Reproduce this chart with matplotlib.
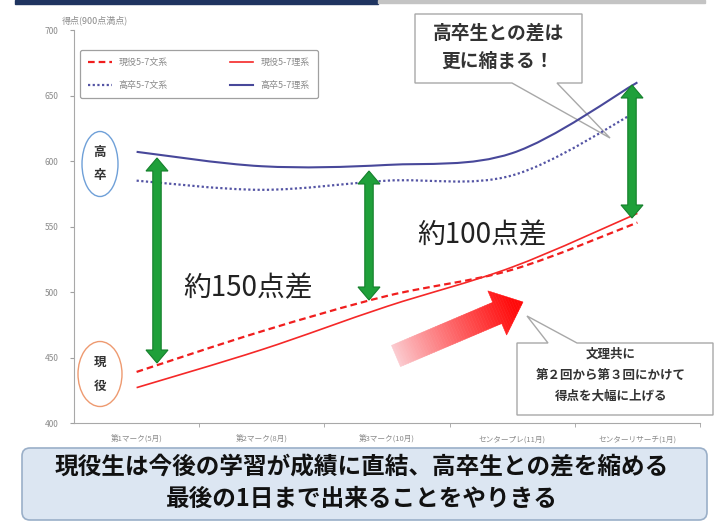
import numpy as np
import matplotlib
matplotlib.use('Agg')
import matplotlib.pyplot as plt
from matplotlib.path import Path
from matplotlib.patches import PathPatch, Polygon, Ellipse, Rectangle, FancyBboxPatch
from matplotlib.lines import Line2D
import matplotlib.transforms as mtransforms

plt.rcParams['font.family'] = ['Noto Sans CJK JP', 'DejaVu Sans']

# data
exams = ['第1マーク(5月)', '第2マーク(8月)', '第3マーク(10月)', 'センタープレ(11月)', 'センターリサーチ(1月)']
genneki_bun = [439, 470, 497, 517, 553]   # 現役5-7文系
genneki_ri = [427, 456, 489, 519, 560]    # 現役5-7理系
kousotsu_bun = [585, 578, 585, 589, 638]  # 高卒5-7文系
kousotsu_ri = [607, 596, 597, 606, 660]   # 高卒5-7理系
yticks = [400, 450, 500, 550, 600, 650, 700]

fig = plt.figure(figsize=(7.21, 5.25), dpi=100)
ax = fig.add_axes([74/721, 1 - 423/525, 626/721, 393/525])
# pixel coordinates of the picture (y down) for the decorations
T = mtransforms.Affine2D().scale(1/721, -1/525).translate(0, 1) + fig.transFigure


def smooth_path(xs, ys):
    # Catmull-Rom style bezier like excel's smoothed lines
    pts = np.column_stack([xs, ys]).astype(float)
    ext = np.vstack([pts[0], pts, pts[-1]])
    verts = [pts[0]]
    codes = [Path.MOVETO]
    for i in range(len(pts) - 1):
        p0, p1, p2, p3 = ext[i], ext[i+1], ext[i+2], ext[i+3]
        c1 = p1 + (p2 - p0) / 6
        c2 = p2 - (p3 - p1) / 6
        verts += [c1, c2, p2]
        codes += [Path.CURVE4] * 3
    return Path(verts, codes)


x = np.arange(len(exams))
series = [
    (genneki_bun, '#F01E1E', (0, (3, 1.8)), 1.6, '現役5-7文系'),
    (genneki_ri, '#F52828', '-', 1.2, '現役5-7理系'),
    (kousotsu_bun, '#5454A4', (0, (1, 1.1)), 1.6, '高卒5-7文系'),
    (kousotsu_ri, '#48489A', '-', 1.5, '高卒5-7理系'),
]
handles = {}
for vals, col, ls, lw, lab in series:
    ax.add_patch(PathPatch(smooth_path(x, vals), fill=False, edgecolor=col,
                           linestyle=ls, lw=lw, zorder=3))
    handles[lab] = Line2D([], [], color=col, linestyle=ls, lw=lw)

ax.set_xlim(-0.5, 4.5)
ax.set_ylim(400, 700)
ax.set_yticks(yticks)
ax.set_xticks(x)
ax.set_xticklabels(exams)
ax.set_xticks([0.5, 1.5, 2.5, 3.5, 4.5], minor=True)
ax.tick_params(axis='x', which='major', length=0, labelsize=5.5, colors='#8a8a8a', pad=9)
ax.tick_params(axis='x', which='minor', length=3, color='#a0a0a0')
ax.tick_params(axis='y', length=3, labelsize=6, colors='#8a8a8a', color='#a0a0a0', pad=8)
for s in ['top', 'right']:
    ax.spines[s].set_visible(False)
for s in ['left', 'bottom']:
    ax.spines[s].set_color('#a8a8a8')
ax.text(62, 20, '得点(900点満点)', transform=T, fontsize=6.5, color='#8a8a8a',
        va='center', ha='left')

order = ['現役5-7文系', '高卒5-7文系', '現役5-7理系', '高卒5-7理系']
leg = ax.legend([handles[k] for k in order], order, ncol=2, loc='upper left',
                bbox_to_anchor=(0.0096, 0.84, 0.38, 0.109), mode='expand',
                fontsize=6.5, handlelength=2.6, labelcolor='#8a8a8a',
                labelspacing=1.5, borderpad=0.9,
                borderaxespad=0, framealpha=1, edgecolor='#a0a0a0')
leg.get_frame().set_linewidth(0.9)

# top band
ax.add_patch(Rectangle((15, 0), 363, 4, transform=T, clip_on=False, color='#1F3460', zorder=1))
ax.add_patch(Rectangle((378, 0), 327, 3, transform=T, clip_on=False, color='#C4C4C4', zorder=1))

# circles 高卒 / 現役
ax.add_patch(Ellipse((100, 164), 36, 65, transform=T, clip_on=False, fill=False,
                     edgecolor='#6FA0D8', lw=1))
ax.add_patch(Ellipse((100, 374), 44, 65, transform=T, clip_on=False, fill=False,
                     edgecolor='#EE9A70', lw=1))
for ch, yy in [('高', 152), ('卒', 176), ('現', 362), ('役', 386)]:
    ax.text(100, yy, ch, transform=T, fontsize=9, fontweight='bold', color='#333333',
            ha='center', va='center')


def double_arrow(xc, y0, y1):
    hw, sw, hl = 11, 4.2, 13
    pts = [(xc, y0), (xc + hw, y0 + hl), (xc + sw, y0 + hl), (xc + sw, y1 - hl),
           (xc + hw, y1 - hl), (xc, y1), (xc - hw, y1 - hl), (xc - sw, y1 - hl),
           (xc - sw, y0 + hl), (xc - hw, y0 + hl)]
    ax.add_patch(Polygon(pts, closed=True, transform=T, clip_on=False,
                         facecolor='#1FA03A', edgecolor='#15802C', lw=0.8, zorder=6))


double_arrow(157, 158, 363)
double_arrow(369, 171, 300)
double_arrow(632, 85, 218)

ax.text(248, 288, '約150点差', transform=T, fontsize=20, color='#222222',
        ha='center', va='center', zorder=6)
ax.text(482, 235, '約100点差', transform=T, fontsize=20, color='#222222',
        ha='center', va='center', zorder=6)

# gradient red arrow
tail = np.array([396.0, 356.0])
tip = np.array([523.0, 302.0])
L = np.linalg.norm(tip - tail)
u = (tip - tail) / L
n = np.array([-u[1], u[0]])
head_len, head_half, shaft_half = 28.0, 24.0, 11.5
light = np.array([251, 205, 210]) / 255
red = np.array([255, 10, 10]) / 255


def width_at(s):
    if s <= L - head_len:
        return shaft_half
    return head_half * (L - s) / head_len


cuts = list(np.linspace(0, L - head_len, 40)) + list(np.linspace(L - head_len, L, 12))[1:]
for a, b in zip(cuts[:-1], cuts[1:]):
    wa = head_half if abs(a - (L - head_len)) < 1e-6 else width_at(a)
    wb = width_at(b)
    pa, pb = tail + u * a, tail + u * b
    quad = [pa + n * wa, pb + n * wb, pb - n * wb, pa - n * wa]
    t = min(1.0, ((a + b) / 2) / (L - 10))
    col = light + (red - light) * t ** 0.9
    ax.add_patch(Polygon(quad, closed=True, transform=T, clip_on=False,
                         facecolor=col, edgecolor=col, lw=0.4, zorder=4))

# callout top
call1 = [(415, 14), (582, 14), (582, 83), (557, 83), (610, 138), (512, 83), (415, 83)]
ax.add_patch(Polygon(call1, closed=True, transform=T, clip_on=False,
                     facecolor='white', edgecolor='#A8A8A8', lw=1, zorder=2))
ax.text(498, 33, '高卒生との差は', transform=T, fontsize=13.5, fontweight='bold',
        color='#333333', ha='center', va='center', zorder=3)
ax.text(498, 61, '更に縮まる！', transform=T, fontsize=13.5, fontweight='bold',
        color='#333333', ha='center', va='center', zorder=3)

# callout bottom right
call2 = [(517, 343), (548, 343), (527, 316), (577, 343), (713, 343), (713, 415), (517, 415)]
ax.add_patch(Polygon(call2, closed=True, transform=T, clip_on=False,
                     facecolor='white', edgecolor='#A8A8A8', lw=1, zorder=2))
for txt, yy in [('文理共に', 354), ('第２回から第３回にかけて', 375), ('得点を大幅に上げる', 396)]:
    ax.text(611, yy, txt, transform=T, fontsize=9, fontweight='bold', color='#333333',
            ha='center', va='center', zorder=3)

# bottom message box
ax.add_patch(FancyBboxPatch((22, 448), 685, 72, boxstyle='round,pad=0,rounding_size=8',
                            transform=T, clip_on=False, facecolor='#DCE6F2',
                            edgecolor='#9AAFC8', lw=1.2, zorder=1))
ax.text(362, 468, '現役生は今後の学習が成績に直結、高卒生との差を縮める', transform=T,
        fontsize=17, fontweight='bold', color='#111111', ha='center', va='center')
ax.text(362, 499, '最後の1日まで出来ることをやりきる', transform=T,
        fontsize=17, fontweight='bold', color='#111111', ha='center', va='center')

fig.savefig('out.png', dpi=100)
